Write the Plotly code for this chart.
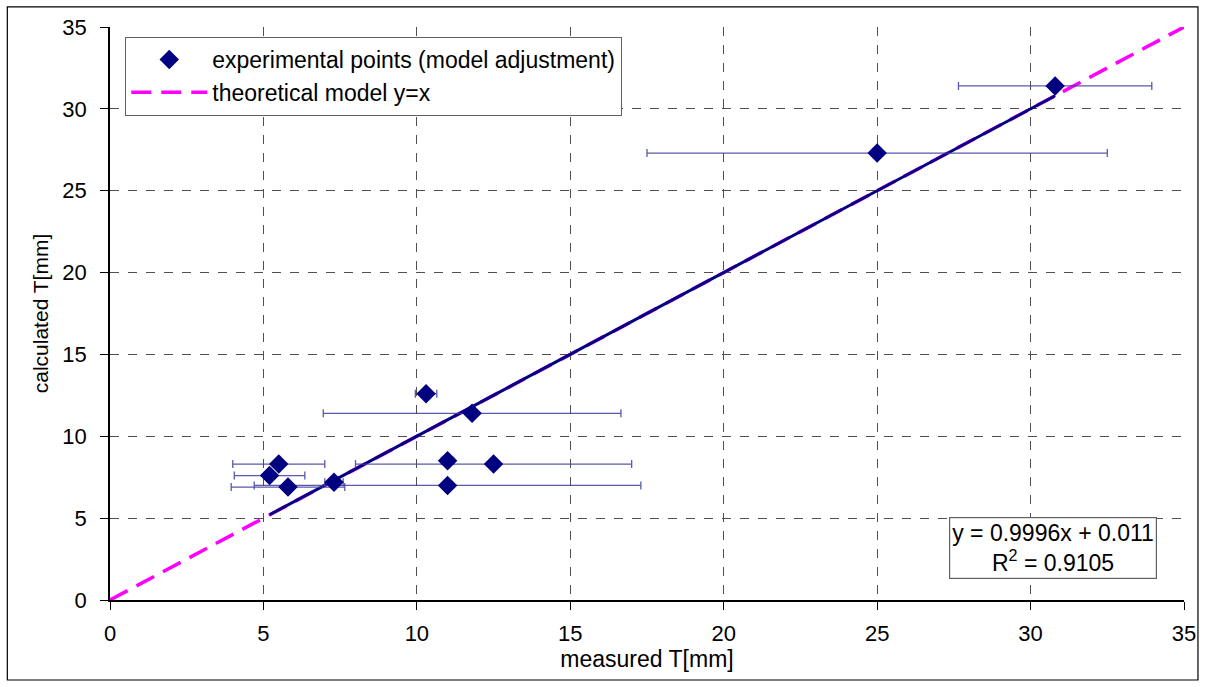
import plotly.graph_objects as go

# measured vs calculated T [mm]
measured = [5.2, 5.5, 5.8, 7.3, 10.3, 11.0, 11.0, 11.8, 12.5, 25.0, 30.8]
calculated = [7.6, 8.3, 6.9, 7.2, 12.6, 8.5, 7.0, 11.4, 8.3, 27.3, 31.4]
measured_err = [1.15, 1.5, 1.85, 0.3, 0.35, 0.2, 6.3, 4.85, 4.5, 7.5, 3.15]

# linear fit of the experimental points
fit_slope = 0.9996
fit_intercept = 0.011
fit_r2 = 0.9105

# theoretical model y = x over the full axis range
model_x = [0, 35]
tick_vals = [0, 5, 10, 15, 20, 25, 30, 35]

FONT = "Liberation Sans, Arial, sans-serif"
NAVY = "#000080"

fig = go.Figure()

fig.add_trace(go.Scatter(
    x=model_x, y=model_x, mode="lines",
    name="theoretical model y=x",
    line=dict(color="#ff00ff", width=3.5, dash="20px,10px"),
    legendrank=2,
))

fit_x = [min(measured), max(measured)]
fit_y = [fit_slope * v + fit_intercept for v in fit_x]
fig.add_trace(go.Scatter(
    x=fit_x, y=fit_y, mode="lines", showlegend=False,
    line=dict(color=NAVY, width=3),
))

fig.add_trace(go.Scatter(
    x=measured, y=calculated, mode="markers",
    name="experimental points (model adjustment)",
    marker=dict(symbol="diamond", size=15, color=NAVY),
    error_x=dict(type="data", array=measured_err, visible=True,
                 color="rgba(60,60,160,0.85)", thickness=1.3, width=4),
    legendrank=1,
))

axis_common = dict(
    range=[0, 35], tickvals=tick_vals, showgrid=True,
    gridcolor="#505050", griddash="dash", gridwidth=1,
    showline=True, linecolor="black", linewidth=1.5,
    ticks="outside", ticklen=8, tickcolor="black",
    tickfont=dict(family=FONT, size=22, color="black"),
    zeroline=False, fixedrange=True,
)

fig.update_xaxes(**axis_common, ticklabelstandoff=5,
                 title=dict(text="measured T[mm]", font=dict(family=FONT, size=23, color="black"),
                            standoff=6))
fig.update_yaxes(**axis_common, ticklabelstandoff=9,
                 title=dict(text="calculated T[mm]", font=dict(family=FONT, size=21, color="black"),
                            standoff=8))

fig.add_annotation(
    x=30.74, y=3.18, xref="x", yref="y",
    text=f"y = {fit_slope}x + {fit_intercept}<br>R<sup>2</sup> = {fit_r2}",
    showarrow=False, align="center",
    font=dict(family=FONT, size=23, color="black"),
    bgcolor="white", bordercolor="#606060", borderwidth=1.2, borderpad=2,
)

# outer chart frame
fig.add_shape(type="rect", xref="paper", yref="paper",
              x0=-0.0956, x1=1.013, y0=-0.1396, y1=1.035,
              line=dict(color="black", width=1.2), layer="below")

fig.update_layout(
    width=1208, height=687,
    margin=dict(l=110, r=21, t=27, b=87),
    plot_bgcolor="white", paper_bgcolor="white",
    font=dict(family=FONT, color="black"),
    legend=dict(
        x=0.014, y=0.983, xanchor="left", yanchor="top",
        bgcolor="white", bordercolor="#606060", borderwidth=1.2,
        font=dict(family=FONT, size=23, color="black"),
        traceorder="normal", itemwidth=76, tracegroupgap=0,
    ),
)

fig.write_html("out.html")
